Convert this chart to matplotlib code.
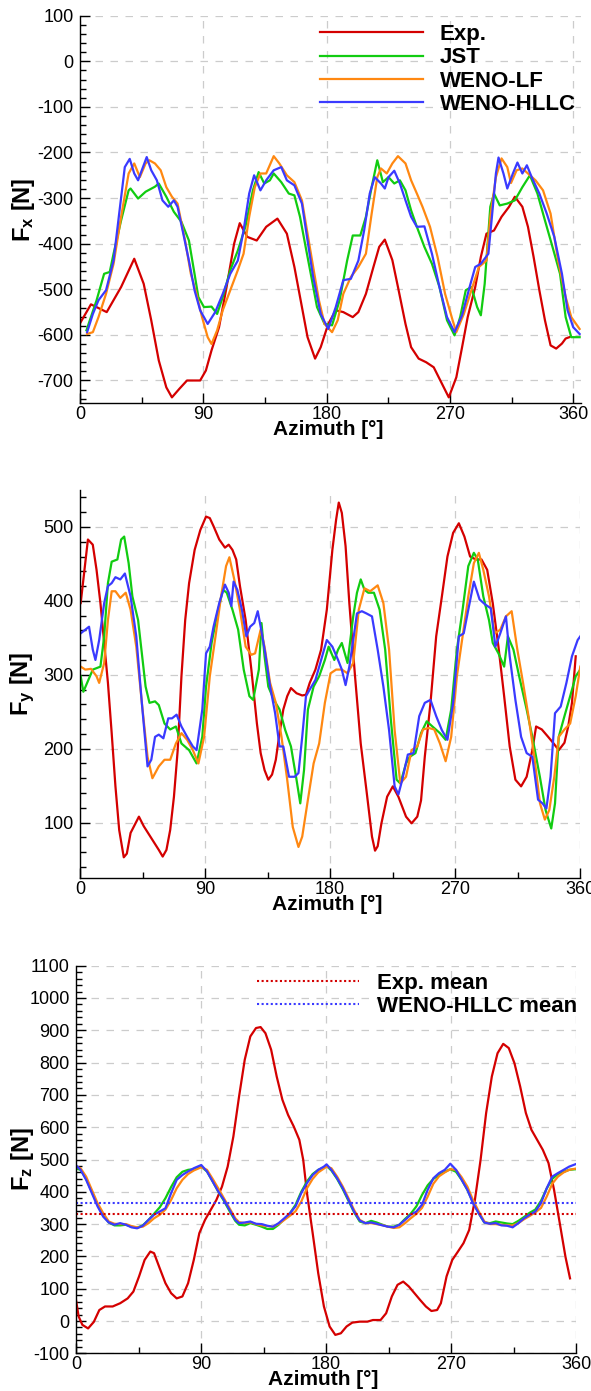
import matplotlib
matplotlib.use("Agg")
import matplotlib.pyplot as plt
from matplotlib.ticker import MultipleLocator

plt.rcParams['font.family'] = ['Liberation Sans', 'DejaVu Sans']
plt.rcParams['mathtext.fontset'] = 'custom'
plt.rcParams['mathtext.rm'] = 'Liberation Sans'
plt.rcParams['mathtext.it'] = 'Liberation Sans:italic'
plt.rcParams['mathtext.bf'] = 'Liberation Sans:bold'
plt.rcParams['axes.unicode_minus'] = False

# ---- Fx ----
fx_exp_az = [0.5, 8, 19.5, 30, 39.6, 46.5, 52, 57.5, 63, 67.1, 72.6, 78.1, 87.7, 91.9, 96, 101.5, 107, 112.5, 116.6, 122.1,
             129, 135.9, 144.1, 151, 156.5, 162, 166.1, 171.6, 175.7, 181.2, 186.7, 192.2, 199.1, 203.2, 208.7, 214.2,
             218.4, 222.5, 228, 232.1, 237.6, 241.7, 247.2, 252.7, 258.2, 263.7, 269.2, 274.7, 278.9, 283, 288.5, 292.6,
             296.7, 302.2, 307.7, 313.2, 317.4, 322.9, 327, 331.1, 335.3, 339.4, 343.5, 347.6, 351.8, 354.5, 357.2]
fx_exp = [-572, -533, -550, -495, -433, -488, -568, -656, -715, -737, -718, -700, -700, -678, -634, -583, -495, -400, -355, -385,
          -393, -363, -345, -378, -451, -539, -605, -652, -627, -576, -546, -550, -561, -550, -510, -451,
          -407, -391, -436, -495, -576, -627, -652, -660, -671, -704, -737, -693, -627, -561, -495, -429,
          -378, -371, -341, -319, -297, -319, -363, -429, -502, -568, -623, -630, -619, -608, -605]

fx_jst_az = [4.7, 12.1, 17.6, 21.7, 24.5, 30.0, 35.5, 36.9, 42.4, 47.9, 54.7, 57.5, 63.0, 68.5, 74.0, 79.5, 83.6, 86.4, 90.5,
             96.0, 100.1, 104.2, 109.7, 115.2, 120.7, 126.2, 130.4, 134.5, 138.6, 141.4, 146.9, 152.4, 156.5, 160.6, 164.7,
             168.9, 173.0, 178.5, 184.0, 189.5, 195.0, 199.1, 204.6, 208.7, 212.9, 217.0, 221.1, 225.2, 229.4, 233.5,
             237.6, 241.7, 245.9, 251.4, 256.9, 262.4, 267.9, 273.4, 277.5, 281.6, 285.7, 289.9, 292.6, 295.4, 299.5,
             302.2, 306.4, 311.9, 317.4, 322.9, 328.4, 333.9, 339.4, 344.9, 350.4, 354.5, 358.6, 364.7]
fx_jst = [-590, -524, -466, -462, -422, -349, -283, -279, -301, -286, -275, -268, -297, -330, -352, -393, -466, -517, -539,
          -538, -554, -517, -458, -415, -363, -283, -243, -268, -261, -246, -265, -290, -294, -341, -407,
          -473, -539, -576, -579, -524, -437, -382, -382, -341, -276, -217, -265, -254, -268, -261,
          -283, -327, -363, -407, -444, -495, -568, -601, -561, -502, -495, -539, -557, -488, -319,
          -290, -316, -312, -305, -276, -250, -290, -349, -407, -466, -561, -605, -605]

fx_lf_az = [5.2, 9.4, 13.5, 19.0, 24.5, 30.0, 35.5, 39.6, 43.7, 47.9, 50.6, 54.7, 58.9, 63.0, 67.1, 71.2, 76.7, 80.9, 85.0,
            89.1, 93.2, 96.0, 100.1, 104.2, 109.7, 115.2, 119.4, 123.5, 127.6, 131.7, 135.9, 141.4, 145.5, 151.0, 156.5,
            162.0, 166.1, 170.2, 174.4, 178.5, 184.0, 188.1, 192.2, 197.7, 203.2, 208.7, 212.9, 217.0, 219.7, 223.9,
            228.0, 232.1, 237.6, 241.7, 245.9, 250.0, 255.5, 261.0, 266.5, 272.0, 274.7, 280.2, 285.7, 291.2, 296.7,
            299.5, 303.6, 307.7, 311.9, 314.6, 318.7, 322.9, 327.0, 332.5, 338.0, 343.5, 349.0, 354.5, 358.6, 364.7]
fx_lf = [-598, -594, -561, -510, -444, -341, -246, -224, -254, -224, -217, -224, -239, -276, -297, -312, -393, -466, -510,
         -561, -605, -620, -590, -546, -502, -458, -422, -341, -276, -246, -246, -208, -224, -250, -265,
         -305, -378, -451, -524, -576, -594, -568, -510, -473, -451, -422, -334, -254, -235, -246,
         -224, -208, -224, -261, -290, -319, -363, -429, -510, -568, -594, -554, -502, -451, -437,
         -341, -254, -213, -232, -267, -239, -235, -246, -261, -283, -334, -437, -517, -561, -587]

fx_hllc_az = [5.2, 9.4, 13.5, 19.0, 24.5, 28.6, 32.7, 36.3, 39.6, 42.4, 45.1, 48.7, 52.0, 56.1, 60.2, 64.4, 68.5, 71.2,
              75.4, 79.5, 83.6, 87.7, 93.2, 98.7, 104.2, 109.7, 115.2, 119.4, 123.5, 127.1, 131.7, 135.9, 141.4, 146.9,
              151.0, 156.5, 162.0, 166.1, 170.2, 175.7, 181.2, 186.7, 192.2, 197.7, 203.2, 207.4, 211.5, 215.1, 219.7,
              222.5, 225.2, 229.4, 233.5, 237.6, 241.7, 245.9, 251.4, 256.9, 262.4, 267.9, 273.4, 278.9, 284.4, 288.5,
              292.6, 298.1, 300.9, 303.6, 305.5, 309.1, 311.9, 316.0, 319.3, 322.9, 326.2, 329.7, 335.3, 340.7, 346.2,
              351.8, 355.9, 360.0, 364.7]
fx_hllc = [-594, -554, -524, -502, -437, -334, -232, -214, -246, -261, -239, -210, -239, -261, -305, -319, -305, -319,
           -378, -437, -502, -546, -576, -550, -510, -466, -437, -371, -290, -250, -283, -261, -239, -232,
           -261, -272, -312, -393, -473, -554, -587, -539, -480, -477, -437, -371, -290, -254, -268,
           -279, -254, -240, -268, -305, -341, -363, -362, -422, -495, -561, -594, -557, -495, -451,
           -444, -422, -334, -246, -211, -246, -279, -246, -222, -246, -228, -254, -290, -334, -385,
           -466, -546, -583, -598]

# ---- Fy ----
fy_exp_az = [0.5, 5.7, 9.2, 11.9, 14.7, 17.4, 20.1, 22.8, 25.5, 28.2, 31.5, 33.7, 36.4, 42.4, 45.9, 51.3, 56.7, 59.5,
             62.2, 64.9, 67.6, 70.3, 73.0, 75.7, 78.5, 82.5, 86.6, 90.7, 93.4, 96.1, 100.2, 104.3, 107.0, 109.7, 112.4,
             115.1, 119.2, 123.3, 127.3, 130.0, 132.8, 135.5, 138.2, 140.9, 143.6, 146.3, 149.1, 151.8, 155.8, 159.9,
             162.6, 165.3, 169.4, 173.5, 177.6, 181.6, 184.3, 186.2, 188.4, 191.1, 193.8, 197.9, 202.0, 206.1, 210.1,
             212.3, 214.2, 216.9, 221.0, 225.1, 229.1, 234.6, 238.6, 242.7, 245.4, 248.1, 252.2, 256.3, 260.4, 264.4,
             268.5, 272.6, 276.6, 280.7, 284.8, 288.9, 293.0, 297.0, 301.1, 305.2, 309.2, 313.3, 317.4, 321.4, 325.5,
             328.2, 332.3, 336.4, 340.4, 344.5, 348.6, 351.3, 354.0, 356.7]
fy_exp = [397, 483, 476, 442, 397, 343, 289, 221, 149, 90, 53, 58, 86, 108, 95, 79, 63, 54,
          63, 90, 135, 198, 298, 374, 424, 469, 496, 514, 512, 501, 483, 472, 476, 469, 456,
          420, 374, 307, 234, 194, 171, 158, 165, 185, 221, 253, 271, 282, 275, 272,
          273, 289, 307, 334, 388, 469, 510, 533, 519, 474, 397, 298, 207, 144, 81,
          62, 68, 99, 135, 149, 135, 108, 99, 108, 130, 189, 262, 352, 406, 460,
          492, 505, 487, 460, 456, 456, 442, 397, 338, 271, 203, 158, 149, 162, 198,
          230, 226, 217, 208, 198, 208, 230, 262, 325]

fy_jst_az = [0.5, 2.4, 9.2, 14.7, 17.4, 20.1, 22.8, 26.9, 29.6, 31.8, 35.0, 37.7, 41.8, 44.5, 47.2, 50.0, 54.0, 56.7,
             60.8, 64.9, 69.0, 73.0, 78.5, 83.9, 88.0, 90.7, 94.7, 98.8, 102.9, 105.6, 109.7, 113.8, 117.8, 121.9, 124.6,
             128.7, 130.6, 132.8, 135.5, 139.5, 143.6, 147.7, 151.8, 155.8, 158.5, 161.2, 164.0, 168.1, 172.1, 176.2,
             178.9, 183.0, 185.7, 188.4, 192.5, 196.6, 199.3, 202.0, 204.7, 207.4, 211.5, 215.6, 219.6, 223.7, 227.8,
             230.5, 234.6, 237.3, 241.4, 245.4, 249.5, 253.6, 259.0, 263.1, 267.1, 271.2, 275.3, 279.4, 283.4, 286.2,
             290.2, 294.3, 297.0, 301.1, 305.2, 307.9, 311.9, 316.0, 321.4, 325.5, 330.9, 335.0, 339.1, 341.8, 344.5,
             348.6, 352.7, 356.7, 360.0]
fy_jst = [298, 277, 307, 311, 352, 424, 453, 456, 483, 487, 451, 406, 374, 329, 284, 262, 264, 259,
          234, 226, 230, 207, 198, 180, 216, 284, 343, 383, 415, 411, 388, 361, 307, 271, 266,
          307, 370, 325, 284, 266, 253, 225, 203, 158, 126, 171, 253, 284, 298, 320,
          338, 320, 334, 343, 316, 379, 411, 429, 415, 411, 411, 388, 334, 239, 158,
          153, 180, 189, 194, 221, 237, 230, 221, 212, 253, 334, 388, 447, 465, 456,
          406, 374, 343, 329, 311, 352, 334, 298, 253, 216, 162, 117, 92, 126, 216,
          244, 271, 298, 307]

fy_lf_az = [0.5, 3.8, 7.9, 11.9, 13.8, 17.4, 20.1, 22.8, 25.5, 29.0, 32.9, 36.4, 40.5, 44.5, 48.6, 52.1, 56.7, 60.8,
            64.9, 69.0, 73.0, 77.1, 81.2, 85.2, 89.3, 93.4, 97.5, 101.5, 105.1, 107.5, 111.0, 115.1, 119.2, 123.3,
            126.0, 130.0, 132.8, 136.8, 140.9, 145.0, 149.1, 153.1, 157.2, 159.9, 164.0, 168.1, 172.1, 176.2, 180.3,
            184.3, 188.4, 192.5, 196.6, 200.6, 204.7, 208.8, 214.2, 218.3, 222.4, 226.4, 230.5, 234.6, 238.6, 242.7,
            246.8, 250.9, 254.9, 259.0, 263.1, 267.1, 271.2, 275.3, 279.4, 283.4, 287.0, 290.2, 294.3, 298.4, 302.4,
            306.5, 310.6, 314.7, 318.8, 322.8, 326.9, 331.0, 334.5, 337.7, 341.3, 344.5, 348.6, 352.7, 356.7, 360.0]
fy_lf = [311, 307, 308, 298, 289, 316, 374, 413, 413, 404, 411, 388, 338, 262, 189, 160, 176, 185,
         185, 207, 221, 212, 198, 180, 216, 298, 352, 406, 447, 459, 429, 388, 338, 327,
         329, 361, 338, 289, 262, 216, 158, 94, 67, 81, 131, 180, 207, 262, 302,
         307, 307, 302, 316, 388, 417, 413, 421, 397, 334, 225, 153, 162, 198, 203,
         226, 228, 226, 207, 183, 216, 298, 352, 406, 451, 465, 442, 406, 356, 361,
         379, 386, 334, 289, 243, 189, 126, 104, 117, 162, 216, 226, 234, 271, 311]

fy_hllc_az = [0.5, 3.8, 6.5, 9.2, 11.1, 13.8, 17.4, 20.1, 22.8, 25.5, 29.0, 32.3, 36.4, 40.5, 44.5, 48.6, 51.3, 54.0,
              56.7, 60.0, 63.5, 66.2, 69.5, 73.0, 77.1, 81.2, 83.9, 88.0, 90.7, 93.4, 96.1, 100.2, 104.3, 107.0, 108.9,
              110.5, 113.2, 116.5, 119.7, 122.4, 125.4, 127.9, 130.0, 133.3, 136.8, 140.4, 143.6, 146.3, 150.4, 154.5,
              157.2, 159.9, 162.6, 165.3, 169.4, 173.5, 177.6, 181.6, 185.7, 188.4, 191.1, 193.8, 196.6, 199.3, 202.8,
              206.1, 210.1, 214.2, 218.3, 222.4, 226.4, 229.1, 231.9, 235.9, 240.0, 244.1, 248.1, 252.2, 256.3, 260.4,
              264.4, 268.5, 272.6, 276.1, 279.4, 283.4, 287.5, 291.6, 295.6, 298.9, 302.4, 306.5, 309.2, 313.3, 317.4,
              321.4, 325.5, 329.6, 332.8, 335.6, 338.6, 341.8, 345.9, 350.0, 354.0, 358.1, 360.0]
fy_hllc = [356, 361, 365, 334, 320, 347, 397, 420, 424, 432, 429, 437, 406, 352, 262, 176, 185, 216,
           219, 214, 241, 241, 246, 230, 216, 203, 198, 253, 329, 338, 365, 397, 422, 411, 393,
           426, 415, 388, 352, 365, 370, 386, 365, 329, 284, 248, 203, 203, 162, 162,
           167, 216, 271, 280, 293, 320, 347, 338, 320, 307, 286, 311, 347, 383, 386,
           383, 379, 334, 284, 225, 149, 138, 158, 192, 194, 244, 262, 266, 244, 225,
           212, 262, 352, 356, 388, 426, 402, 395, 390, 338, 356, 379, 325, 266, 216,
           194, 189, 131, 126, 119, 162, 248, 257, 289, 325, 347, 352]

# ---- Fz ----
fz_exp_az = [0, 1.9, 4.6, 8.7, 12.8, 16.8, 20.9, 26.4, 31.8, 37.2, 41.3, 45.4, 49.4, 53.5, 56.2, 60.3, 64.4, 68.5, 72.5,
             76.6, 80.7, 84.8, 88.8, 92.9, 97.0, 101.1, 105.1, 109.2, 113.3, 117.4, 121.5, 125.5, 129.6, 132.9, 136.4,
             140.5, 144.5, 148.6, 152.7, 156.8, 160.8, 163.6, 166.3, 170.4, 174.4, 178.5, 182.6, 186.7, 190.7, 194.8,
             198.9, 204.3, 209.8, 213.8, 219.3, 223.3, 227.4, 231.5, 235.6, 239.6, 243.7, 247.8, 251.9, 255.9, 260.0,
             262.7, 266.8, 270.9, 275.0, 279.0, 283.1, 287.2, 291.3, 295.3, 299.4, 303.5, 307.6, 311.6, 315.7, 319.8,
             323.9, 327.9, 332.0, 336.1, 340.2, 344.2, 348.3, 352.4, 355.7]
fz_exp = [65, 14, -12, -23, -3, 34, 45, 45, 55, 70, 91, 138, 189, 215, 210, 163, 117, 86, 70,
          76, 117, 189, 272, 313, 344, 375, 416, 478, 571, 695, 809, 881, 907, 910, 891,
          840, 757, 685, 638, 602, 561, 499, 396, 272, 148, 45, -17, -43, -38, -17,
          -5, -2, -2, 3, 3, 24, 76, 112, 122, 107, 86, 65, 45, 31, 34,
          55, 138, 189, 215, 241, 282, 375, 499, 644, 757, 829, 858, 845, 798, 726,
          644, 592, 561, 530, 489, 406, 303, 199, 132]

fz_cfd_az = [0, 3.3, 7.3, 11.4, 15.5, 19.6, 23.6, 27.7, 31.8, 35.9, 39.9, 44.0, 48.1, 52.2, 56.2, 60.3, 64.4, 68.5,
             72.5, 76.6, 80.7, 84.8, 90.2, 94.3, 98.4, 102.4, 106.5, 110.6, 114.7, 117.4, 121.5, 125.5, 129.6, 133.7,
             137.7, 141.8, 145.9, 150.0, 154.1, 158.1, 162.2, 166.3, 170.4, 174.4, 178.5, 180.4, 183.9, 188.0, 192.1,
             196.2, 200.2, 204.3, 208.4, 212.5, 216.5, 220.6, 224.7, 228.8, 232.8, 236.9, 241.0, 245.1, 249.1, 253.2,
             257.3, 261.4, 265.5, 269.5, 273.6, 277.7, 281.8, 285.8, 289.9, 294.0, 298.1, 302.2, 306.3, 310.3, 314.4,
             318.5, 322.6, 326.6, 330.7, 334.8, 338.9, 342.9, 347.0, 351.1, 355.1, 360.0]
fz_jst = [472, 468, 440, 400, 360, 326, 305, 296, 296, 298, 292, 289, 296, 313, 332, 352, 380, 415,
          445, 462, 468, 470, 478, 463, 432, 401, 372, 340, 310, 298, 296, 303, 298, 292,
          285, 285, 298, 316, 334, 360, 400, 432, 455, 468, 475, 480, 466, 440, 408,
          372, 337, 308, 303, 310, 305, 298, 292, 292, 298, 316, 332, 355, 390, 420,
          440, 452, 462, 470, 462, 437, 406, 368, 334, 305, 303, 308, 305, 302, 300,
          310, 322, 335, 345, 372, 410, 440, 455, 462, 468, 470]
fz_lf = [478, 473, 447, 406, 365, 334, 308, 301, 300, 300, 294, 290, 292, 303, 318, 329, 345, 375,
         411, 437, 455, 466, 476, 468, 440, 411, 380, 349, 318, 306, 303, 306, 300, 296,
         294, 292, 300, 313, 326, 340, 370, 411, 440, 460, 472, 478, 473, 447, 416,
         380, 344, 313, 303, 303, 300, 297, 292, 288, 290, 303, 318, 332, 350, 385,
         425, 448, 460, 470, 468, 445, 416, 375, 340, 308, 300, 300, 298, 296, 296,
         303, 315, 325, 336, 350, 385, 425, 447, 460, 468, 472]
fz_hllc = [482, 468, 437, 396, 355, 323, 305, 298, 303, 298, 290, 287, 295, 313, 329, 339, 349, 396,
           437, 452, 463, 473, 483, 463, 432, 401, 375, 344, 313, 303, 305, 308, 301, 300,
           295, 292, 303, 318, 334, 355, 396, 427, 452, 468, 478, 485, 468, 442, 411,
           375, 339, 311, 303, 305, 301, 296, 292, 290, 298, 313, 329, 339, 360, 406,
           442, 458, 468, 487, 468, 437, 406, 365, 334, 305, 301, 303, 296, 295, 290,
           303, 318, 329, 339, 365, 411, 447, 458, 468, 478, 486]

fz_exp_mean = 331
fz_hllc_mean = 366

labels = ['Exp.', 'JST', 'WENO-LF', 'WENO-HLLC']
c_exp = '#d40000'
c_jst = '#11cc11'
c_lf = '#ff8811'
c_hllc = '#3a3aff'
lw = 1.6

W, H = 591, 1391
fig = plt.figure(figsize=(W / 100, H / 100), dpi=100)

ax1 = fig.add_axes([80 / W, 1 - 403.3 / H, 501.4 / W, 387.6 / H])
ax2 = fig.add_axes([80 / W, 1 - 878 / H, 500.3 / W, 388 / H])
ax3 = fig.add_axes([76 / W, 1 - 1353.3 / H, 500 / W, 387.6 / H])

ax1.plot(fx_exp_az, fx_exp, color=c_exp, lw=lw, label=labels[0])
ax1.plot(fx_jst_az, fx_jst, color=c_jst, lw=lw, label=labels[1])
ax1.plot(fx_lf_az, fx_lf, color=c_lf, lw=lw, label=labels[2])
ax1.plot(fx_hllc_az, fx_hllc, color=c_hllc, lw=lw, label=labels[3])

ax2.plot(fy_exp_az, fy_exp, color=c_exp, lw=lw)
ax2.plot(fy_jst_az, fy_jst, color=c_jst, lw=lw)
ax2.plot(fy_lf_az, fy_lf, color=c_lf, lw=lw)
ax2.plot(fy_hllc_az, fy_hllc, color=c_hllc, lw=lw)

ax3.plot(fz_exp_az, fz_exp, color=c_exp, lw=lw)
ax3.plot(fz_cfd_az, fz_jst, color=c_jst, lw=lw)
ax3.plot(fz_cfd_az, fz_lf, color=c_lf, lw=lw)
ax3.plot(fz_cfd_az, fz_hllc, color=c_hllc, lw=lw)
ax3.axhline(fz_exp_mean, color=c_exp, lw=1.5, linestyle=(0, (1, 1.2)), label='Exp. mean')
ax3.axhline(fz_hllc_mean, color=c_hllc, lw=1.5, linestyle=(0, (1, 1.2)), label='WENO-HLLC mean')

ax1.set_xlim(0, 366)
ax1.set_ylim(-750, 100)
ax1.set_yticks(range(-700, 101, 100))
ax2.set_xlim(0, 360)
ax2.set_ylim(25, 550)
ax2.set_yticks(range(100, 501, 100))
ax3.set_xlim(0, 360)
ax3.set_ylim(-100, 1100)
ax3.set_yticks(range(-100, 1101, 100))

ylabels = [r'F$_{\mathbf{x}}$ [N]', r'F$_{\mathbf{y}}$ [N]', r'F$_{\mathbf{z}}$ [N]']
ylab_x = [-0.086, -0.086, -0.08]
for ax, yl, yx in zip([ax1, ax2, ax3], ylabels, ylab_x):
    ax.set_xticks([0, 90, 180, 270, 360])
    ax.xaxis.set_minor_locator(MultipleLocator(45))
    ax.yaxis.set_minor_locator(MultipleLocator(20))
    for s in ['top', 'right']:
        ax.spines[s].set_visible(False)
    for s in ['left', 'bottom']:
        ax.spines[s].set_linewidth(1.0)
    ax.tick_params(which='both', direction='in', top=False, right=False, width=1.0)
    ax.tick_params(which='major', length=7)
    ax.tick_params(which='minor', length=4)
    ax.tick_params(axis='x', labelsize=13, pad=2)
    ax.tick_params(axis='y', labelsize=13, pad=4.5)
    ax.grid(True, which='major', color='#cccccc', linestyle=(0, (6, 6)), linewidth=0.9)
    ax.set_axisbelow(True)
    ax.set_xlabel('Azimuth [°]', fontsize=15, fontweight='bold')
    ax.xaxis.set_label_coords(0.495, -0.044)
    ax.set_ylabel(yl, fontsize=17, fontweight='bold')
    ax.yaxis.set_label_coords(yx, 0.5)

ax1.legend(loc='upper left', bbox_to_anchor=(320.3 / W, 1 - 23.9 / H), bbox_transform=fig.transFigure,
           frameon=False, prop={'weight': 'bold', 'size': 16}, handlelength=4.6, handletextpad=0.78,
           labelspacing=0.11, borderpad=0, borderaxespad=0)
ax3.legend(loc='upper left', bbox_to_anchor=(256.7 / W, 1 - 972.6 / H), bbox_transform=fig.transFigure,
           frameon=False, prop={'weight': 'bold', 'size': 16}, handlelength=4.6, handletextpad=0.81,
           labelspacing=0.11, borderpad=0, borderaxespad=0)

fig.savefig('out.png', dpi=100)
